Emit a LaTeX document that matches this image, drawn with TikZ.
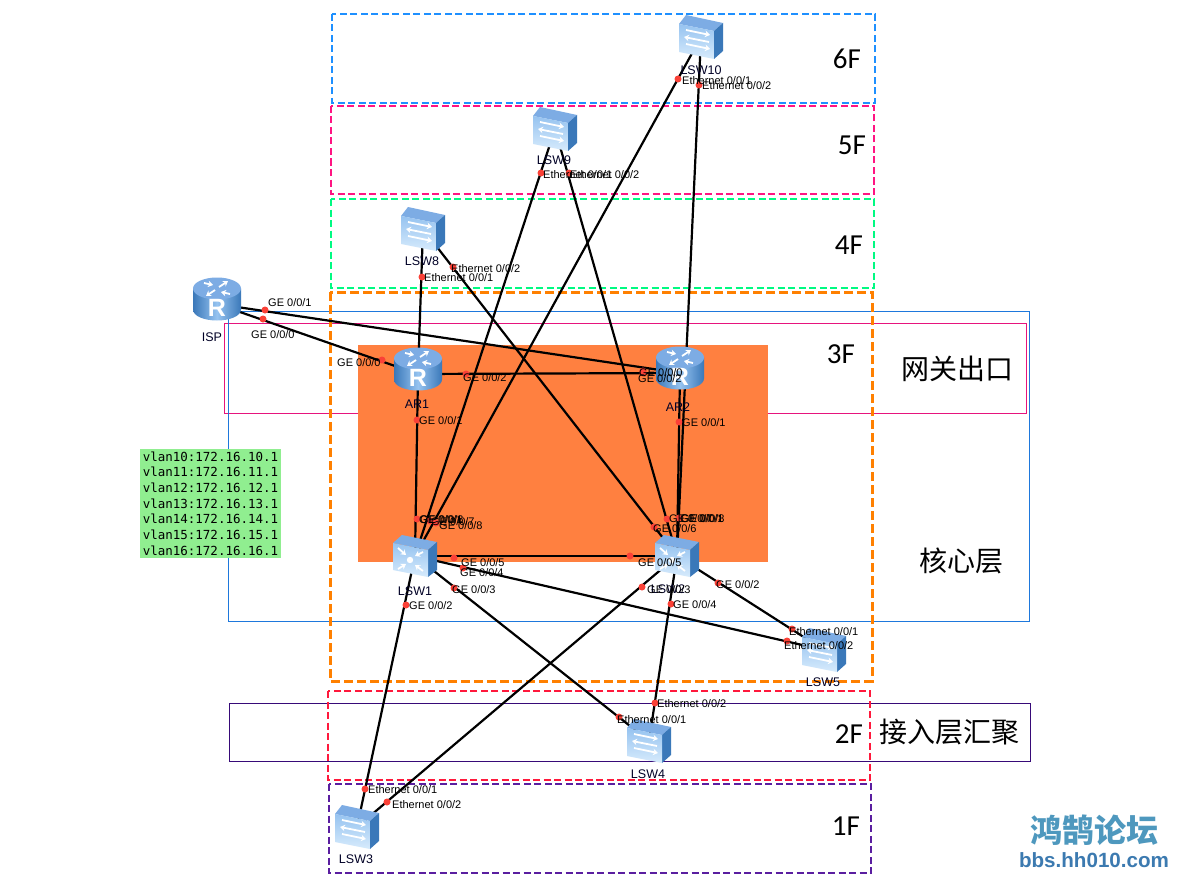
\documentclass[tikz,border=0pt]{standalone}
\usepackage{fontspec}
\setmainfont{Liberation Sans}
\newfontfamily\cjkfont{Noto Sans CJK SC}
\newfontfamily\floorfont{Carlito}
\newfontfamily\vlanfont{DejaVu Sans Mono}
\usetikzlibrary{arrows.meta}
\definecolor{floorblue}{RGB}{30,144,255}
\definecolor{floorpink}{RGB}{255,20,130}
\definecolor{floorgreen}{RGB}{0,250,130}
\definecolor{floororange}{RGB}{255,128,0}
\definecolor{floorred}{RGB}{255,25,60}
\definecolor{floorpurple}{RGB}{90,30,160}
\definecolor{corefill}{RGB}{255,128,64}
\definecolor{gatewaypink}{RGB}{230,20,125}
\definecolor{coreblue}{RGB}{30,120,220}
\definecolor{accessviolet}{RGB}{55,10,120}
\definecolor{vlangreen}{RGB}{144,238,144}
\definecolor{portred}{RGB}{250,65,55}
\definecolor{iconlight}{RGB}{215,235,252}
\definecolor{iconmid}{RGB}{150,195,240}
\definecolor{icontop}{RGB}{125,172,228}
\definecolor{iconside}{RGB}{58,120,185}
\definecolor{marktitleblue}{RGB}{78,152,190}
\definecolor{markurlblue}{RGB}{60,122,176}
\begin{document}
\begin{tikzpicture}[
  x=1pt, y=-1pt,
  font=\fontsize{11}{13}\selectfont,
  floorbox/.style={line width=2.4pt, dash pattern=on 7pt off 3.5pt},
  thinbox/.style={line width=1pt},
  devnode/.style={inner sep=0pt, minimum size=0pt},
  link/.style={draw=black, line width=2.2pt},
  portdot/.style={circle, fill=portred, inner sep=0pt, minimum size=7pt},
  portlabel/.style={anchor=west, inner sep=0pt, text=black, yshift=-0.7pt},
  devname/.style={inner sep=0pt, text=black!85!blue, font=\fontsize{12.5}{14}\selectfont},
  floorname/.style={inner sep=0pt, font=\floorfont\fontsize{29}{31}\selectfont},
  layername/.style={inner sep=0pt, font=\cjkfont\fontsize{28}{30}\selectfont},
  whitearrow/.style={draw=white, line width=1.8pt, -{Stealth[length=5pt,width=6.5pt]}},
  switchicon/.pic={
    \fill[icontop] (-22,-13) -- (-15,-22) -- (22,-14) -- (13,-6) -- cycle;
    \fill[iconside] (13,-6) -- (22,-14) -- (22,14) -- (13,22) -- cycle;
    \shade[top color=iconmid, bottom color=iconlight] (-22,-13) -- (13,-6) -- (13,22) -- (-22,15) -- cycle;
    \draw[whitearrow] (-15,-7) -- (9,-2);
    \draw[whitearrow] (8,5) -- (-17,0);
    \draw[whitearrow] (-15,7) -- (9,12);
  },
  coreicon/.pic={
    \fill[icontop] (-22,-13) -- (-13,-21) -- (22,-14) -- (13,-6) -- cycle;
    \fill[iconside] (13,-6) -- (22,-14) -- (22,14) -- (13,21) -- cycle;
    \shade[top color=iconmid, bottom color=iconlight] (-22,-13) -- (13,-6) -- (13,21) -- (-22,14) -- cycle;
    \fill[white] (-5,4) circle [radius=3.2];
    \draw[whitearrow] (-17,-8) -- (-9,-1);
    \draw[whitearrow] (8,-4) -- (0,0);
    \draw[whitearrow] (-17,13) -- (-9,8);
    \draw[whitearrow] (8,15) -- (0,9);
  },
  routericon/.pic={
    \shade[left color=iconside, right color=iconside, middle color=iconmid] (-24,-15.5) -- (-24,5.5)
      .. controls (-24,12) and (-13,16.5) .. (0,16.5)
      .. controls (13,16.5) and (24,12) .. (24,5.5) -- (24,-15.5) -- cycle;
    \fill[icontop] (0,-15.5) ellipse [x radius=24, y radius=11];
    \draw[whitearrow] (2,-17) -- (11,-23);
    \draw[whitearrow] (-2,-14) -- (-11,-8);
    \draw[whitearrow] (-13,-21) -- (-4,-19);
    \draw[whitearrow] (13,-10) -- (4,-12);
    \node[inner sep=0pt, text=white, font=\bfseries\fontsize{25}{27}\selectfont] (-letter) at (0,4) {R};
  }
]
\useasboundingbox (0,0) rectangle (1186,888);
\fill[white] (0,0) rectangle (1186,888);

\draw[thinbox, draw=gatewaypink] (224,323) rectangle (1026,413);
\draw[thinbox, draw=coreblue] (228,311) rectangle (1029,621);
\draw[thinbox, draw=accessviolet] (229,703) rectangle (1030,761);
\fill[corefill] (358,345) rectangle (768,562);

\draw[floorbox, draw=floorblue] (332,14) rectangle (875,103);
\draw[floorbox, draw=floorpink] (331,106) rectangle (874,194);
\draw[floorbox, draw=floorgreen] (331,199) rectangle (874,288);
\draw[floorbox, draw=floororange, line width=3pt, dash pattern=on 9pt off 4pt] (330,292) rectangle (872,681);
\draw[floorbox, draw=floorred] (328,691) rectangle (870,780);
\draw[floorbox, draw=floorpurple] (329,784) rectangle (871,873);

\node[floorname] (floor6) at (847,59) {6F};
\node[floorname] (floor5) at (852,145) {5F};
\node[floorname] (floor4) at (849,245) {4F};
\node[floorname] (floor3) at (841,354) {3F};
\node[floorname] (floor2) at (849,734) {2F};
\node[floorname] (floor1) at (846,826) {1F};

\node[layername] (gatewaytext) at (957,369) {网关出口};
\node[layername] (coretext) at (961,561) {核心层};
\node[layername] (accesstext) at (949,732) {接入层汇聚};

\node[fill=vlangreen, inner sep=2.7pt, align=left, font=\vlanfont\fontsize{12.5}{15.7}\selectfont] (vlanbox) at (210.5,503.5) {vlan10:172.16.10.1\\vlan11:172.16.11.1\\vlan12:172.16.12.1\\vlan13:172.16.13.1\\vlan14:172.16.14.1\\vlan15:172.16.15.1\\vlan16:172.16.16.1};

\node[devnode] (isp) at (217,304) {};
\node[devnode] (ar1) at (418,374) {};
\node[devnode] (ar2) at (680,373) {};
\node[devnode] (lsw1) at (415,556) {};
\node[devnode] (lsw2) at (677,556) {};
\node[devnode] (lsw3) at (357,827) {};
\node[devnode] (lsw4) at (649,741) {};
\node[devnode] (lsw5) at (824,650) {};
\node[devnode] (lsw8) at (423,229) {};
\node[devnode] (lsw9) at (555,129) {};
\node[devnode] (lsw10) at (701,37) {};

\draw[link] (isp) -- (ar1);
\draw[link] (isp) -- (ar2);
\draw[link] (ar1) -- (ar2);
\draw[link] (ar1) -- (lsw1);
\draw[link] (ar2) -- (lsw2);
\draw[link] (lsw1) -- (lsw2);
\draw[link] (lsw1) -- (lsw3);
\draw[link] (lsw1) -- (lsw4);
\draw[link] (lsw1) -- (lsw5);
\draw[link] (lsw2) -- (lsw3);
\draw[link] (lsw2) -- (lsw4);
\draw[link] (lsw2) -- (lsw5);
\draw[link] (lsw8) -- (ar1);
\draw[link] (lsw8) -- (lsw2);
\draw[link] (lsw9) -- (lsw1);
\draw[link] (lsw9) -- (lsw2);
\draw[link] (lsw10) -- (lsw1);
\draw[link] (lsw10) -- (lsw2);

\pic (ispicon) at (isp) {routericon};
\pic (ar1icon) at (ar1) {routericon};
\pic (ar2icon) at (ar2) {routericon};
\pic (lsw1icon) at (lsw1) {coreicon};
\pic (lsw2icon) at (lsw2) {coreicon};
\pic (lsw3icon) at (lsw3) {switchicon};
\pic (lsw4icon) at (lsw4) {switchicon};
\pic (lsw5icon) at (lsw5) {switchicon};
\pic (lsw8icon) at (lsw8) {switchicon};
\pic (lsw9icon) at (lsw9) {switchicon};
\pic (lsw10icon) at (lsw10) {switchicon};

\node[devname] (ispname) at (212,337) {ISP};
\node[devname] (ar1name) at (417,404) {AR1};
\node[devname] (ar2name) at (678,407) {AR2};
\node[devname] (lsw1name) at (415,591) {LSW1};
\node[devname] (lsw2name) at (668,589) {LSW2};
\node[devname] (lsw3name) at (356,859) {LSW3};
\node[devname] (lsw4name) at (648,774) {LSW4};
\node[devname] (lsw5name) at (823,682) {LSW5};
\node[devname] (lsw8name) at (422,261) {LSW8};
\node[devname] (lsw9name) at (554,160) {LSW9};
\node[devname] (lsw10name) at (701,70) {LSW10};

\node[portdot] (dotten1) at (678,79) {};
\node[portdot] (dotten2) at (699,85) {};
\node[portdot] (dotnine1) at (541,173) {};
\node[portdot] (dotnine2) at (569,173) {};
\node[portdot] (doteight2) at (453,267) {};
\node[portdot] (doteight1) at (422,277) {};
\node[portdot] (dotisp1) at (265,310) {};
\node[portdot] (dotisp0) at (263,319) {};
\node[portdot] (dotarone0) at (382,360) {};
\node[portdot] (dotarone2) at (466,374) {};
\node[portdot] (dotarone1) at (417,420) {};
\node[portdot] (dotartwo0) at (643,371) {};
\node[portdot] (dotartwo2) at (643,373) {};
\node[portdot] (dotartwo1) at (679,422) {};
\node[portdot] (dotone1) at (417,519) {};
\node[portdot] (dotone7) at (430,521) {};
\node[portdot] (dotone8) at (436,523) {};
\node[portdot] (dotone5) at (454,558) {};
\node[portdot] (dotone4) at (463,568) {};
\node[portdot] (dotone3) at (454,588) {};
\node[portdot] (dotone2) at (406,605) {};
\node[portdot] (dottwo7) at (667,519) {};
\node[portdot] (dottwo8) at (679,518) {};
\node[portdot] (dottwo6) at (654,527) {};
\node[portdot] (dottwo5) at (630,556) {};
\node[portdot] (dottwo3) at (642,587) {};
\node[portdot] (dottwo4) at (671,604) {};
\node[portdot] (dottwo2) at (718,583) {};
\node[portdot] (dotfive1) at (792,629) {};
\node[portdot] (dotfive2) at (787,641) {};
\node[portdot] (dotfour2) at (655,703) {};
\node[portdot] (dotfour1) at (619,717) {};
\node[portdot] (dotthree1) at (365,789) {};
\node[portdot] (dotthree2) at (387,802) {};

\node[portlabel] (textten1) at (682,80) {Ethernet 0/0/1};
\node[portlabel] (textten2) at (702,85) {Ethernet 0/0/2};
\node[portlabel] (textnine1) at (543,174) {Ethernet 0/0/1};
\node[portlabel] (textnine2) at (570,174) {Ethernet 0/0/2};
\node[portlabel] (texteight2) at (451,268) {Ethernet 0/0/2};
\node[portlabel] (texteight1) at (424,277) {Ethernet 0/0/1};
\node[portlabel] (textisp1) at (268,302) {GE 0/0/1};
\node[portlabel] (textisp0) at (251,334) {GE 0/0/0};
\node[portlabel] (textarone0) at (337,362) {GE 0/0/0};
\node[portlabel] (textarone2) at (463,377) {GE 0/0/2};
\node[portlabel] (textarone1) at (419,420) {GE 0/0/1};
\node[portlabel] (textartwo0) at (639,372) {GE 0/0/0};
\node[portlabel] (textartwo2) at (638,378) {GE 0/0/2};
\node[portlabel] (textartwo1) at (682,422) {GE 0/0/1};
\node[portlabel] (textone1) at (419,519) {GE 0/0/1};
\node[portlabel] (textone6) at (420,519) {GE 0/0/6};
\node[portlabel] (textone7) at (431,521) {GE 0/0/7};
\node[portlabel] (textone8) at (439,525) {GE 0/0/8};
\node[portlabel] (textone5) at (461,562) {GE 0/0/5};
\node[portlabel] (textone4) at (460,572) {GE 0/0/4};
\node[portlabel] (textone3) at (452,589) {GE 0/0/3};
\node[portlabel] (textone2) at (409,605) {GE 0/0/2};
\node[portlabel] (texttwo7) at (669,518) {GE 0/0/7};
\node[portlabel] (texttwo1) at (680,518) {GE 0/0/1};
\node[portlabel] (texttwo8) at (681,518) {GE 0/0/8};
\node[portlabel] (texttwo6) at (653,528) {GE 0/0/6};
\node[portlabel] (texttwo5) at (638,562) {GE 0/0/5};
\node[portlabel] (texttwo3) at (647,589) {GE 0/0/3};
\node[portlabel] (texttwo4) at (673,604) {GE 0/0/4};
\node[portlabel] (texttwo2) at (716,584) {GE 0/0/2};
\node[portlabel] (textfive1) at (789,631) {Ethernet 0/0/1};
\node[portlabel] (textfive2) at (784,645) {Ethernet 0/0/2};
\node[portlabel] (textfour2) at (657,703) {Ethernet 0/0/2};
\node[portlabel] (textfour1) at (617,719) {Ethernet 0/0/1};
\node[portlabel] (textthree1) at (368,789) {Ethernet 0/0/1};
\node[portlabel] (textthree2) at (392,804) {Ethernet 0/0/2};

\node[inner sep=0pt, text=marktitleblue, font=\cjkfont\bfseries\fontsize{32}{34}\selectfont] (marktitle) at (1094,830) {鸿鹄论坛};
\node[inner sep=0pt, text=markurlblue, font=\bfseries\fontsize{20.6}{23}\selectfont] (markurl) at (1094,860) {bbs.hh010.com};
\end{tikzpicture}
\end{document}
